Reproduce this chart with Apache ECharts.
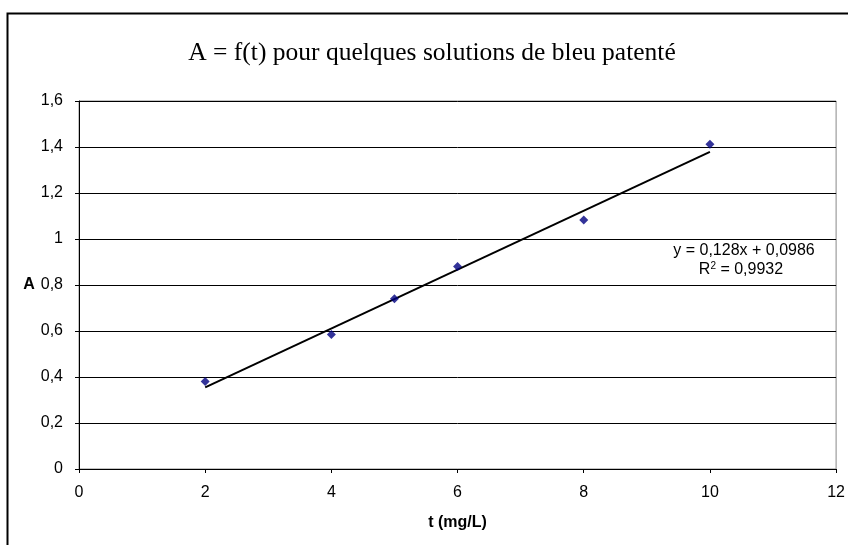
<!DOCTYPE html>
<html><head><meta charset="utf-8">
<script src="https://cdn.jsdelivr.net/npm/echarts@6/dist/echarts.min.js"></script>
<style>html,body{margin:0;padding:0;background:#fff}#c{width:848px;height:545px}</style>
</head><body><div id="c"></div>
<script>
const tValues = [2, 4, 5, 6, 8, 10];
const absorbance = [0.38, 0.585, 0.74, 0.88, 1.083, 1.412];
const slope = 0.128, intercept = 0.0986;
const trendX = [2, 10];
const titleText = 'A = f(t) pour quelques solutions de bleu patenté';
const eqLine1 = 'y = 0,128x + 0,0986';
const eqLine2 = '0,9932';

const chart = echarts.init(document.getElementById('c'));
const fmt = v => String(v).replace('.', ',');
const LBL = { fontFamily: 'Liberation Sans', fontSize: 16, color: '#000' };
chart.setOption({
  animation: false,
  backgroundColor: '#fff',
  title: { text: titleText, left: 427, textAlign: 'center', top: 35,
    textStyle: { fontFamily: 'Liberation Serif', fontSize: 25.5, fontWeight: 'normal', color: '#000' } },
  grid: { left: 79, right: 9, top: 101, bottom: 76, show: true, borderColor: '#888', borderWidth: 1, backgroundColor: 'transparent' },
  xAxis: { type: 'value', min: 0, max: 12, interval: 2,
    name: 't (mg/L)', nameLocation: 'middle', nameGap: 46,
    nameTextStyle: Object.assign({}, LBL, { fontWeight: 'bold' }),
    axisLine: { show: true, onZero: false, lineStyle: { color: '#000', width: 1 } },
    axisTick: { show: true, inside: false, length: 4, lineStyle: { color: '#000' } },
    axisLabel: Object.assign({ margin: 16, formatter: fmt }, LBL),
    splitLine: { show: false } },
  yAxis: { type: 'value', min: 0, max: 1.6, interval: 0.2,
    name: 'A', nameLocation: 'middle', nameRotate: 0, nameGap: 42,
    nameTextStyle: Object.assign({}, LBL, { fontWeight: 'bold' }),
    axisLine: { show: true, onZero: false, lineStyle: { color: '#000', width: 1 } },
    axisTick: { show: true, length: 4, lineStyle: { color: '#000' } },
    axisLabel: Object.assign({ margin: 16, formatter: v => fmt(Math.round(v * 10) / 10) }, LBL),
    splitLine: { show: true, lineStyle: { color: '#000', width: 1 } } },
  graphic: [
    { type: 'rect', shape: { x: 7.5, y: 13.5, width: 900, height: 600 }, style: { fill: 'none', stroke: '#000', lineWidth: 2 }, silent: true },
    { type: 'text', x: 744, y: 251, style: { text: eqLine1, font: '16px "Liberation Sans"', fill: '#000', align: 'center', verticalAlign: 'middle' } },
    { type: 'text', x: 741, y: 270, style: { text: 'R{s|2} = ' + eqLine2, font: '16px "Liberation Sans"', fill: '#000', align: 'center', verticalAlign: 'middle',
        rich: { s: { fontSize: 10, fontFamily: 'Liberation Sans', verticalAlign: 'top', padding: [0, 0, 8, 0] } } } }
  ],
  series: [
    { type: 'line', data: trendX.map(x => [x, slope * x + intercept]), symbol: 'none',
      lineStyle: { color: '#000', width: 2 }, z: 2 },
    { type: 'scatter', data: tValues.map((t, i) => [t, absorbance[i]]), symbol: 'diamond', symbolSize: 9,
      itemStyle: { color: '#000080' }, z: 3 }
  ]
});
</script></body></html>
